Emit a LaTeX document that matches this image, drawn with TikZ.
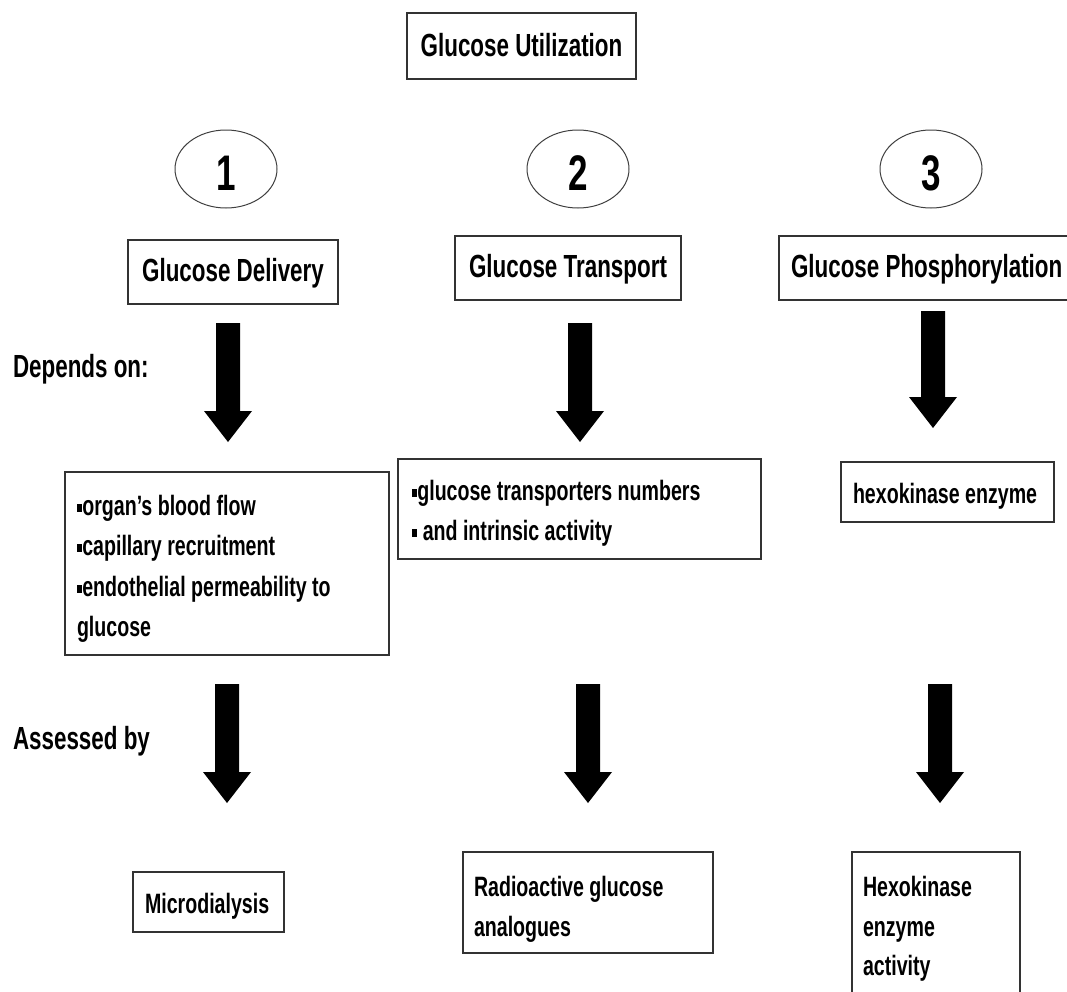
\documentclass[tikz,border=0pt]{standalone}
\usepackage{fontspec}
\setmainfont{Liberation Sans}[FakeStretch=0.70]
\usetikzlibrary{shapes.geometric,calc}
\newcommand\bul{\rule[0.12em]{0.19em}{0.27em}}
\newcommand\blockarrow[4]{% name, x, ytop, ytip
  \coordinate (#1top) at (#2,#3);
  \coordinate (#1tip) at (#2,#4);
  \fill[black] ($(#1top)+(-12,0)$) -- ($(#1top)+(12,0)$) -- ($(#1tip)+(12,-31)$) -- ($(#1tip)+(24,-31)$) -- (#1tip) -- ($(#1tip)+(-24,-31)$) -- ($(#1tip)+(-12,-31)$) -- cycle;}
\begin{document}
\begin{tikzpicture}[x=1pt,y=-1pt,
  every node/.style={font=\bfseries\fontsize{28}{40}\selectfont, inner sep=0pt, outer sep=0pt},
  bigtext/.style={font=\bfseries\fontsize{32}{40}\selectfont},
  numtext/.style={font=\bfseries\fontsize{50}{56}\selectfont},
  boxstyle/.style={draw=black!80, line width=1.5pt, fill=white},
  ellstyle/.style={draw=black!75, line width=1pt, ellipse, minimum width=102pt, minimum height=78pt}]
\useasboundingbox (0,0) rectangle (1067,991);
\clip (0,0) rectangle (1067,991);
\fill[white] (0,0) rectangle (1067,991);
% title
\node[boxstyle, minimum width=229pt, minimum height=66pt, anchor=north west] (title) at (407,13) {};
\node[bigtext, anchor=base] (titletext) at (521.5,56) {Glucose Utilization};
% ellipses
\node[ellstyle] (e1) at (226,169) {};
\node[ellstyle] (e2) at (578,169) {};
\node[ellstyle] (e3) at (931,169) {};
\node[numtext, anchor=base] (n1) at (226,190) {1};
\node[numtext, anchor=base] (n2) at (578,190) {2};
\node[numtext, anchor=base] (n3) at (931,190) {3};
% headings
\node[boxstyle, minimum width=210pt, minimum height=64pt, anchor=north west] (h1) at (128,240) {};
\node[bigtext, anchor=base] (h1t) at (233,281) {Glucose Delivery};
\node[boxstyle, minimum width=226pt, minimum height=64pt, anchor=north west] (h2) at (455,236) {};
\node[bigtext, anchor=base] (h2t) at (568,277) {Glucose Transport};
\node[boxstyle, minimum width=301pt, minimum height=64pt, anchor=north west] (h3) at (779,236) {};
\node[bigtext, anchor=base west] (h3t) at (791,277) {Glucose Phosphorylation};
% side labels
\node[bigtext, anchor=base west] (dep) at (13,377) {Depends on:};
\node[bigtext, anchor=base west] (ass) at (13,749) {Assessed by};
% arrows row 1
\blockarrow{a1}{228}{323}{442}
\blockarrow{a2}{580}{323}{442}
\blockarrow{a3}{933}{311}{428}
% depends boxes
\node[boxstyle, minimum width=324pt, minimum height=183pt, anchor=north west] (d1) at (65,472) {};
\node[anchor=base west] (d1a) at (77,515) {\bul organ’s blood flow};
\node[anchor=base west] (d1b) at (77,555) {\bul capillary recruitment};
\node[anchor=base west] (d1c) at (77,596) {\bul endothelial permeability to};
\node[anchor=base west] (d1d) at (77,636) {glucose};
\node[boxstyle, minimum width=363pt, minimum height=100pt, anchor=north west] (d2) at (398,459) {};
\node[anchor=base west] (d2a) at (412,500) {\bul glucose transporters numbers};
\node[anchor=base west] (d2b) at (412,540) {\bul{} and intrinsic activity};
\node[boxstyle, minimum width=213pt, minimum height=60pt, anchor=north west] (d3) at (841,462) {};
\node[anchor=base west] (d3a) at (853,503) {hexokinase enzyme};
% arrows row 2
\blockarrow{b1}{227}{684}{803}
\blockarrow{b2}{588}{684}{803}
\blockarrow{b3}{940}{684}{803}
% assessed boxes
\node[boxstyle, minimum width=151pt, minimum height=60pt, anchor=north west] (m1) at (133,872) {};
\node[anchor=base west] (m1a) at (145,913) {Microdialysis};
\node[boxstyle, minimum width=250pt, minimum height=101pt, anchor=north west] (m2) at (463,852) {};
\node[anchor=base west] (m2a) at (474,896) {Radioactive glucose};
\node[anchor=base west] (m2b) at (474,936) {analogues};
\node[boxstyle, minimum width=168pt, minimum height=150pt, anchor=north west] (m3) at (852,852) {};
\node[anchor=base west] (m3a) at (863,896) {Hexokinase};
\node[anchor=base west] (m3b) at (863,936) {enzyme};
\node[anchor=base west] (m3c) at (863,975) {activity};
\end{tikzpicture}
\end{document}
